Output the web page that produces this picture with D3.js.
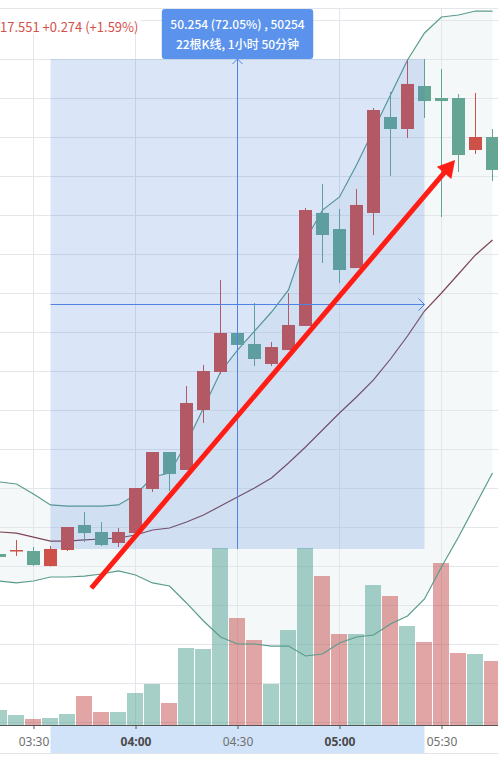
<!DOCTYPE html>
<html>
<head>
<meta charset="utf-8">
<script src="https://cdn.jsdelivr.net/npm/d3@7"></script>
<style>
  body { margin: 0; background: #fff; }
  svg { display: block; font-family: "Noto Sans CJK SC", "Noto Sans", sans-serif; }
</style>
</head>
<body>
<div id="chart"></div>
<script>
var width = 498, height = 762;
var plotTop = 8, plotBottom = 725;

// 5 minute bars
var times = ["03:20","03:25","03:30","03:35","03:40","03:45","03:50","03:55","04:00","04:05",
             "04:10","04:15","04:20","04:25","04:30","04:35","04:40","04:45","04:50","04:55",
             "05:00","05:05","05:10","05:15","05:20","05:25","05:30","05:35","05:40","05:45"];
var open  = [69.23, 69.54, 69.54, 68.00, 69.64, 72.21, 71.49, 70.36, 71.38, 75.90,
             79.69, 77.85, 84.00, 87.90, 91.90, 90.77, 88.72, 90.15, 92.62, 104.21,
             102.56, 98.56, 104.21, 114.05, 112.82, 117.23, 116.00, 116.00, 110.67, 112.00];
var high  = [69.44, 70.67, 69.95, 70.05, 72.00, 73.54, 72.51, 71.90, 76.00, 79.69,
             79.69, 86.46, 88.62, 97.33, 92.00, 94.97, 90.97, 96.00, 104.72, 107.18,
             104.62, 106.67, 114.97, 116.62, 119.90, 120.00, 118.97, 116.41, 116.51, 112.82];
var low   = [68.72, 69.03, 68.00, 67.95, 69.54, 70.46, 70.05, 69.95, 71.30, 75.59,
             75.69, 77.85, 82.67, 87.69, 90.56, 88.51, 88.51, 90.15, 92.62, 99.08,
             97.03, 98.56, 101.95, 108.00, 111.90, 113.95, 103.79, 108.41, 110.26, 107.49];
var close = [68.92, 69.64, 68.10, 69.746, 72.00, 71.38, 70.15, 71.49, 76.00, 79.69,
             77.44, 84.72, 88.00, 91.90, 90.67, 89.23, 90.46, 92.72, 104.51, 101.95,
             98.36, 105.03, 114.77, 112.82, 117.44, 115.69, 115.69, 110.15, 112.00, 108.62];
var volume = [1500, 1000, 600, 700, 1100, 2900, 1300, 1300, 3200, 4100,
              2200, 7700, 7600, 17700, 10700, 8500, 4100, 9500, 17700, 14900,
              9100, 9100, 14000, 12900, 9900, 8300, 16200, 7200, 7100, 6400];
var volumeUp = [1,1,0,1,1,0,0,1,1,1, 0,1,1,1,0,0,1,1,1,0, 0,1,1,0,1,0,0,0,1,0];

// bollinger bands
var bollUpper = [76.62, 76.41, 75.38, 74.26, 74.15, 74.15, 74.15, 74.26, 75.28, 77.13,
                 77.54, 80.62, 84.21, 87.90, 90.15, 92.10, 94.05, 96.31, 101.44, 104.51,
                 105.85, 109.13, 112.72, 116.31, 119.90, 122.67, 124.31, 124.51, 124.92, 124.92];
var bollMid   = [71.49, 71.38, 70.97, 70.56, 70.56, 70.67, 70.77, 70.87, 71.18, 71.69,
                 71.90, 72.51, 73.23, 74.15, 75.08, 76.00, 77.03, 78.56, 80.21, 81.95,
                 83.69, 85.33, 87.08, 89.23, 91.59, 94.15, 96.00, 97.95, 99.90, 101.44];
var bollLower = [66.46, 66.26, 66.46, 66.87, 66.87, 66.97, 67.18, 67.49, 67.08, 66.26,
                 65.95, 64.21, 62.36, 60.72, 60.00, 60.00, 59.79, 59.79, 58.77, 58.97,
                 60.10, 60.72, 60.92, 62.05, 62.87, 64.62, 67.90, 70.97, 74.26, 77.54];

var timeTicks = ["03:30", "04:00", "04:30", "05:00", "05:30"];
var priceGrid = [52, 56, 60, 64, 68, 72, 76, 80, 84, 88, 92, 96, 100, 104, 108, 112, 116, 120, 124];

// range measurement: close of first bar to high of last bar
var measureFrom = 3, measureTo = 25;
var legendText = "17.551 +0.274 (+1.59%)";
var arrowFrom = {time: "03:47", price: 65.74};
var arrowTo = {time: "05:34", price: 109.64};

var parse = d3.timeParse("%H:%M");
var bars = times.map(function(t, i) {
  return {t: parse(t), o: open[i], h: high[i], l: low[i], c: close[i], v: volume[i], vu: volumeUp[i]};
});

var x = d3.scaleTime()
  .domain([parse("03:30"), parse("05:30")])
  .range([33.5, 441.5]);
var y = d3.scaleLinear()
  .domain([68, 120])
  .range([566, 59]);
var yVol = d3.scaleLinear()
  .domain([0, d3.max(volume)])
  .range([plotBottom, 548]);

var upColor = "#cd5049", downColor = "#64a693";
var volUpColor = "rgba(77,159,145,0.5)", volDownColor = "rgba(193,75,73,0.5)";

var svg = d3.select("#chart").append("svg")
  .attr("width", width)
  .attr("height", height);

svg.append("clipPath").attr("id", "plot")
  .append("rect").attr("x", 0).attr("y", plotTop).attr("width", width).attr("height", plotBottom - plotTop);

var plot = svg.append("g").attr("clip-path", "url(#plot)");

// band fill
var area = d3.area()
  .x(function(d) { return x(d.t); })
  .y0(function(d, i) { return y(bollLower[i]); })
  .y1(function(d, i) { return y(bollUpper[i]); });
plot.append("path").datum(bars).attr("d", area).attr("fill", "#f4f8f9");

// grid
plot.selectAll(".hgrid").data(priceGrid).enter().append("line")
  .attr("x1", 0).attr("x2", width)
  .attr("y1", function(d) { return Math.round(y(d)) + 0.5; })
  .attr("y2", function(d) { return Math.round(y(d)) + 0.5; })
  .attr("stroke", "#e3e7ec");
plot.selectAll(".vgrid").data(timeTicks).enter().append("line")
  .attr("x1", function(d) { return x(parse(d)); })
  .attr("x2", function(d) { return x(parse(d)); })
  .attr("y1", plotTop).attr("y2", plotBottom)
  .attr("stroke", "#e3e7ec");

// volume
plot.selectAll(".vol").data(bars).enter().append("rect")
  .attr("x", function(d) { return Math.round(x(d.t) - 8.5); })
  .attr("width", 16)
  .attr("y", function(d) { return Math.round(yVol(d.v)); })
  .attr("height", function(d) { return plotBottom - Math.round(yVol(d.v)); })
  .attr("fill", function(d) { return d.vu ? volUpColor : volDownColor; });

// band lines
function bandLine(arr) {
  return d3.line().x(function(d) { return x(d.t); }).y(function(d, i) { return y(arr[i]); });
}
plot.append("path").datum(bars).attr("d", bandLine(bollUpper))
  .attr("fill", "none").attr("stroke", "#5a9c8b").attr("stroke-width", 1.2);
plot.append("path").datum(bars).attr("d", bandLine(bollLower))
  .attr("fill", "none").attr("stroke", "#5a9c8b").attr("stroke-width", 1.2);
plot.append("path").datum(bars).attr("d", bandLine(bollMid))
  .attr("fill", "none").attr("stroke", "#7d4653").attr("stroke-width", 1.2);

// candles
var candle = plot.selectAll(".candle").data(bars).enter().append("g");
candle.append("line")
  .attr("x1", function(d) { return x(d.t); })
  .attr("x2", function(d) { return x(d.t); })
  .attr("y1", function(d) { return y(d.h); })
  .attr("y2", function(d) { return y(d.l); })
  .attr("stroke", function(d) { return d.c >= d.o ? upColor : downColor; });
candle.append("rect")
  .attr("x", function(d) { return x(d.t) - 6.5; })
  .attr("width", 13)
  .attr("y", function(d) { return y(Math.max(d.o, d.c)); })
  .attr("height", function(d) { return Math.max(1.5, Math.abs(y(d.o) - y(d.c))); })
  .attr("fill", function(d) { return d.c >= d.o ? upColor : downColor; });

// measurement box
var b0 = bars[measureFrom], b1 = bars[measureTo];
var p0 = b0.c, p1 = b1.h;
var xL = x(b0.t), xR = x(b1.t);
var yTop = y(p1), yBot = y(p0);
var xMid = (xL + xR) / 2, yMid = Math.round((yTop + yBot) / 2) + 0.5;
var blue = "#4f82e3";

svg.append("rect")
  .attr("x", xL).attr("y", yTop)
  .attr("width", xR - xL).attr("height", yBot - yTop)
  .attr("fill", "rgba(70,125,215,0.2)");
svg.append("line")
  .attr("x1", xL).attr("x2", xR).attr("y1", yMid).attr("y2", yMid)
  .attr("stroke", blue);
svg.append("path")
  .attr("d", "M" + (xR - 6) + "," + (yMid - 6) + "L" + xR + "," + yMid + "L" + (xR - 6) + "," + (yMid + 6))
  .attr("fill", "none").attr("stroke", blue);
svg.append("line")
  .attr("x1", xMid).attr("x2", xMid).attr("y1", yBot).attr("y2", yTop)
  .attr("stroke", blue);
svg.append("path")
  .attr("d", "M" + (xMid - 5) + "," + (yTop + 5) + "L" + xMid + "," + yTop + "L" + (xMid + 5) + "," + (yTop + 5))
  .attr("fill", "none").attr("stroke", blue);

var diff = p1 - p0;
var pct = diff / p0 * 100;
var nBars = measureTo - measureFrom;
var minutes = (b1.t - b0.t) / 60000;
var line1 = diff.toFixed(3) + " (" + pct.toFixed(2) + "%) , " + Math.round(diff * 1000);
var line2 = nBars + "根K线, " + Math.floor(minutes / 60) + "小时 " + (minutes % 60) + "分钟";

var label = svg.append("g");
var labelBox = label.append("rect")
  .attr("y", yTop - 50).attr("height", 50)
  .attr("rx", 3).attr("fill", "#5b93ec");
var t1 = label.append("text").text(line1)
  .attr("x", xMid).attr("y", yTop - 30)
  .attr("text-anchor", "middle").attr("fill", "#fff")
  .attr("font-size", 12).attr("font-weight", 500);
var t2 = label.append("text").text(line2)
  .attr("x", xMid).attr("y", yTop - 10)
  .attr("text-anchor", "middle").attr("fill", "#fff")
  .attr("font-size", 12).attr("font-weight", 500);
var lw = Math.max(t1.node().getComputedTextLength(), t2.node().getComputedTextLength()) + 17;
labelBox.attr("x", xMid - lw / 2).attr("width", lw);

// red arrow
var ax0 = x(parse(arrowFrom.time)), ay0 = y(arrowFrom.price);
var ax1 = x(parse(arrowTo.time)), ay1 = y(arrowTo.price);
var len = Math.hypot(ax1 - ax0, ay1 - ay0);
var ux = (ax1 - ax0) / len, uy = (ay1 - ay0) / len;
var headL = 17, headW = 9.5;
var bx = ax1 - ux * headL, by = ay1 - uy * headL;
svg.append("line")
  .attr("x1", ax0).attr("y1", ay0).attr("x2", bx + ux * 2).attr("y2", by + uy * 2)
  .attr("stroke", "#ff1e16").attr("stroke-width", 5);
svg.append("path")
  .attr("d", "M" + ax1 + "," + ay1 +
    "L" + (bx - uy * headW) + "," + (by + ux * headW) +
    "L" + (bx + uy * headW) + "," + (by - ux * headW) + "Z")
  .attr("fill", "#ff1e16");

// legend
var legend = svg.append("g");
var legendBg = legend.append("rect").attr("x", 0).attr("y", plotTop + 0.5).attr("height", 25).attr("fill", "#fff");
var legendTxt = legend.append("text").text(legendText)
  .attr("x", 0).attr("y", 31.5)
  .attr("font-size", 13).attr("fill", "#d4514a");
legendBg.attr("width", legendTxt.node().getComputedTextLength() + 2);

// top border
svg.append("line").attr("x1", 0).attr("x2", width).attr("y1", plotTop + 0.5).attr("y2", plotTop + 0.5)
  .attr("stroke", "#e3e7ec");

// x axis
svg.append("rect")
  .attr("x", xL).attr("y", plotBottom + 1)
  .attr("width", xR - xL).attr("height", 27)
  .attr("fill", "#d1e3f9");
svg.append("line").attr("x1", 0).attr("x2", width).attr("y1", 753.5).attr("y2", 753.5)
  .attr("stroke", "#e0e3e8");

var xAxis = svg.append("g")
  .attr("transform", "translate(0," + plotBottom + ")")
  .call(d3.axisBottom(x)
    .tickValues(timeTicks.map(parse))
    .tickFormat(d3.timeFormat("%H:%M"))
    .tickSize(4)
    .tickPadding(8));
xAxis.select(".domain").remove();
xAxis.selectAll(".tick line").attr("stroke", "#555");
xAxis.selectAll(".tick text")
  .attr("font-size", 12)
  .attr("font-family", "'Noto Sans', sans-serif")
  .attr("fill", function(d) { return d.getMinutes() === 0 ? "#4a4a4a" : "#707070"; })
  .attr("font-weight", function(d) { return d.getMinutes() === 0 ? "bold" : "normal"; });
svg.append("line").attr("x1", 0).attr("x2", width).attr("y1", plotBottom + 0.5).attr("y2", plotBottom + 0.5)
  .attr("stroke", "#555");
</script>
</body>
</html>
